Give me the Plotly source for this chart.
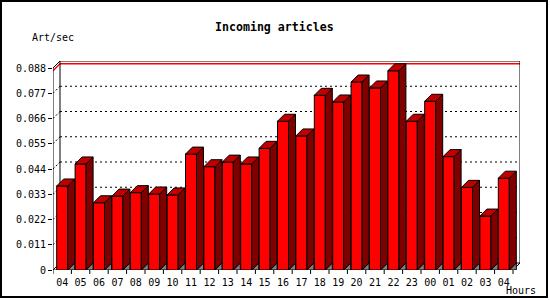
import plotly.graph_objects as go

hours = ["04", "05", "06", "07", "08", "09", "10", "11", "12", "13", "14", "15", "16",
         "17", "18", "19", "20", "21", "22", "23", "00", "01", "02", "03", "04"]
rates = [0.0366, 0.0462, 0.0293, 0.0322, 0.0337, 0.0331, 0.0327, 0.0505, 0.0450, 0.0470,
         0.0462, 0.0530, 0.0648, 0.0584, 0.0761, 0.0732, 0.0819, 0.0793, 0.0868, 0.0648,
         0.0735, 0.0494, 0.0360, 0.0235, 0.0400]
y_ticks = [0, 0.011, 0.022, 0.033, 0.044, 0.055, 0.066, 0.077, 0.088]
y_tick_text = ["0", "0.011", "0.022", "0.033", "0.044", "0.055", "0.066", "0.077", "0.088"]

# layout geometry (pixels)
W, H = 550, 300
ML, MR, MT, MB = 53, 30, 61, 30
PW, PH = W - ML - MR, H - MT - MB
n = len(hours)
px_per_cat = 18.4
DXC = 7 / px_per_cat                  # depth in category units
YMAX = y_ticks[-1]
px_per_val = 202 / YMAX
DYV = 7 / px_per_val                  # depth in value units
BW = 11 / px_per_cat

x_idx = list(range(n))
FONT = "DejaVu Sans Mono"

fig = go.Figure()
fig.add_trace(go.Bar(x=x_idx, y=rates, width=BW,
                     marker=dict(color="#FF0000", line=dict(color="black", width=1)),
                     hoverinfo="skip"))

shapes = []
xl, xr = -0.5, n - 0.5
def line(x0, y0, x1, y1, color="black", width=1, dash=None, layer="below"):
    d = dict(type="line", xref="x", yref="y", x0=x0, y0=y0, x1=x1, y1=y1,
             line=dict(color=color, width=width), layer=layer)
    if dash:
        d["line"]["dash"] = dash
    shapes.append(d)

# back gridlines + left wall diagonals
for v in y_ticks[1:-1]:
    line(xl + DXC, v + DYV, xr + DXC, v + DYV, dash="2px,3px")
    line(xl, v, xl + DXC, v + DYV, dash="2px,2px")
# max line (red)
m = max(rates)
line(xl + DXC, m + DYV, xr + DXC, m + DYV, color="#FF0000", width=1.5)
line(xl, m, xl + DXC, m + DYV, color="#FF0000", width=1.5)
# frame: back wall
line(xl + DXC, DYV, xl + DXC, YMAX + DYV)
line(xl + DXC, YMAX + DYV, xr + DXC, YMAX + DYV)
line(xr + DXC, DYV, xr + DXC, YMAX + DYV)
line(xl + DXC, DYV, xr + DXC, DYV)
# front axes and diagonals
line(xl, 0, xl, YMAX)
line(xl, YMAX, xl + DXC, YMAX + DYV)
line(xl, 0, xl + DXC, DYV)
line(xr, 0, xr + DXC, DYV)
line(xl, 0, xr, 0)

# category boundary ticks below the x axis
for i in range(n + 1):
    shapes.append(dict(type="line", xref="x", yref="paper", x0=i - 0.5, x1=i - 0.5,
                       y0=0, y1=-4 / PH, line=dict(color="black", width=1)))

# 3D faces of bars
for i, v in enumerate(rates):
    x0 = i - BW / 2
    x1 = i + BW / 2
    shapes.append(dict(type="path", xref="x", yref="y", layer="above",
                       path=f"M{x1},0 L{x1 + DXC},0 L{x1 + DXC},{DYV} Z",
                       fillcolor="#808080", line=dict(color="black", width=1)))
    shapes.append(dict(type="path", xref="x", yref="y", layer="above",
                       path=f"M{x1},0 L{x1 + DXC},{DYV} L{x1 + DXC},{v + DYV} L{x1},{v} Z",
                       fillcolor="#800000", line=dict(color="black", width=1)))
    shapes.append(dict(type="path", xref="x", yref="y", layer="above",
                       path=f"M{x0},{v} L{x0 + DXC},{v + DYV} L{x1 + DXC},{v + DYV} L{x1},{v} Z",
                       fillcolor="#C00000", line=dict(color="black", width=1)))

# outer border
def px2paper_x(px):
    return (px - ML) / PW
def px2paper_y(py):
    return (H - MB - py) / PH
shapes.append(dict(type="rect", xref="paper", yref="paper",
                   x0=px2paper_x(1), x1=px2paper_x(547), y0=px2paper_y(297), y1=px2paper_y(1),
                   line=dict(color="black", width=2), layer="above"))

annotations = [
    dict(text="<b>Incoming articles</b>", xref="paper", yref="paper",
         x=px2paper_x(274), y=px2paper_y(27), xanchor="center", yanchor="middle",
         showarrow=False, font=dict(family=FONT, size=11.6, color="black")),
    dict(text="Art/sec", xref="paper", yref="paper",
         x=px2paper_x(30), y=px2paper_y(37), xanchor="left", yanchor="middle",
         showarrow=False, font=dict(family=FONT, size=10, color="black")),
    dict(text="Hours", xref="paper", yref="paper",
         x=px2paper_x(504), y=px2paper_y(290), xanchor="left", yanchor="middle",
         showarrow=False, font=dict(family=FONT, size=10, color="black")),
]

fig.update_layout(
    width=W, height=H, margin=dict(l=ML, r=MR, t=MT, b=MB, pad=0),
    paper_bgcolor="white", plot_bgcolor="white", showlegend=False,
    shapes=shapes, annotations=annotations,
    font=dict(family=FONT, size=10, color="black"),
    xaxis=dict(range=[xl, xr + DXC], showgrid=False, zeroline=False, showline=False,
               tickmode="array", tickvals=x_idx, ticktext=hours,
               ticks="outside", ticklen=3, tickcolor="rgba(0,0,0,0)",
               tickfont=dict(family=FONT, size=10, color="black"),
               automargin=False, fixedrange=True),
    yaxis=dict(range=[0, YMAX + DYV], showgrid=False, zeroline=False, showline=False,
               tickmode="array", tickvals=y_ticks, ticktext=y_tick_text,
               ticks="outside", ticklen=4, tickcolor="black", tickwidth=1,
               tickfont=dict(family=FONT, size=10, color="black"),
               automargin=False, fixedrange=True),
)

fig.write_html("out.html", config={"displayModeBar": False, "staticPlot": True})
